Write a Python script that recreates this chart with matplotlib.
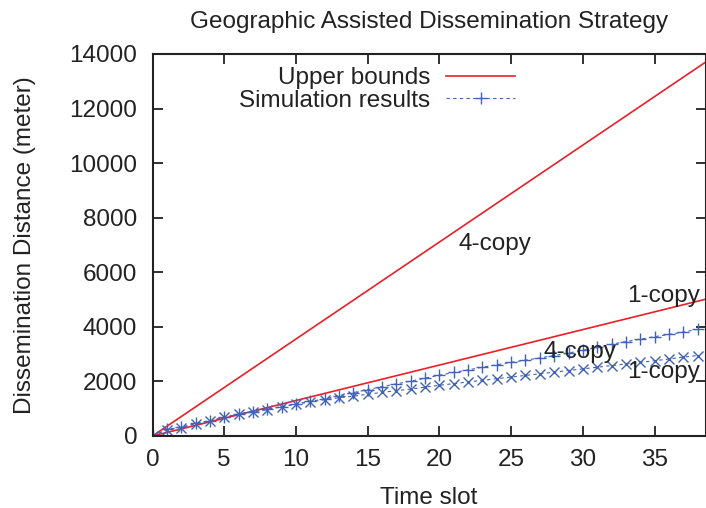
import matplotlib
matplotlib.use("Agg")
import matplotlib.pyplot as plt

plt.rcParams['font.family'] = ['Liberation Sans', 'DejaVu Sans']

# Upper bounds (straight lines, given by their end points)
bound_t = [0, 39]
bound_4copy = [0, 13860]
bound_1copy = [0, 5070]

# Simulation results, one value per time slot
time_slots = list(range(0, 39))
sim_4copy = [0, 240, 320, 460, 560, 690, 810, 890, 980, 1080, 1180, 1270, 1360,
             1480, 1590, 1700, 1810, 1910, 2010, 2120, 2230, 2330, 2420, 2520,
             2610, 2700, 2780, 2860, 2950, 3040, 3140, 3250, 3360, 3460, 3550,
             3640, 3720, 3810, 3910]
sim_1copy = [0, 230, 310, 450, 550, 680, 800, 880, 970, 1070, 1170, 1250, 1330,
             1400, 1460, 1530, 1600, 1660, 1720, 1790, 1860, 1920, 1980, 2040,
             2100, 2160, 2220, 2280, 2340, 2400, 2460, 2520, 2580, 2640, 2700,
             2760, 2820, 2890, 2950]

x_ticks = [0, 5, 10, 15, 20, 25, 30, 35]
y_ticks = [0, 2000, 4000, 6000, 8000, 10000, 12000, 14000]

RED = '#e8202a'
BLUE = '#4263b5'
INK = '#222222'
FS = 17.5

fig = plt.figure(figsize=(7.06, 5.08), dpi=100)
ax = fig.add_axes([152.5 / 706, 1 - 436 / 508, (705.5 - 152.5) / 706, (436 - 54) / 508])

ax.plot(bound_t, bound_4copy, color=RED, lw=1.2, label='Upper bounds')
ax.plot(bound_t, bound_1copy, color=RED, lw=1.2)
ax.plot(time_slots, sim_4copy, color=BLUE, lw=0.8, ls=(0, (3, 3)),
        marker='+', ms=9, mew=1.0, label='Simulation results')
ax.plot(time_slots, sim_1copy, color=BLUE, lw=0.8, ls=(0, (3, 3)),
        marker='x', ms=7.5, mew=1.0)

ax.set_xlim(0, 38.55)
ax.set_ylim(0, 14000)
ax.set_xticks(x_ticks)
ax.set_yticks(y_ticks)
ax.tick_params(direction='in', length=7.5, width=1.3, top=True, right=True,
               labelsize=FS, colors=INK)
ax.tick_params(axis='x', pad=9)
ax.tick_params(axis='y', pad=11)
for sp in ax.spines.values():
    sp.set_linewidth(1.5)
    sp.set_color(INK)

ax.set_title('Geographic Assisted Dissemination Strategy', fontsize=FS,
             color=INK, pad=19)
ax.set_xlabel('Time slot', fontsize=FS, color=INK, labelpad=12)
ax.set_ylabel('Dissemination Distance (meter)', fontsize=FS, color=INK,
              labelpad=24)

ax.text(23.9, 7040, '4-copy', fontsize=FS, ha='center', va='center', color=INK)
ax.text(35.6, 5130, '1-copy', fontsize=FS, ha='center', va='center', color=INK)
ax.text(29.8, 3080, '4-copy', fontsize=FS, ha='center', va='center', color=INK)
ax.text(35.6, 2350, '1-copy', fontsize=FS, ha='center', va='center', color=INK)

leg = ax.legend(loc='upper right', bbox_to_anchor=(0.656, 0.965), frameon=False,
                markerfirst=False, fontsize=FS, handlelength=2.85,
                handletextpad=0.66, labelspacing=0.02, borderpad=0,
                borderaxespad=0)
for t in leg.get_texts():
    t.set_color(INK)

fig.savefig('out.png', dpi=100)
